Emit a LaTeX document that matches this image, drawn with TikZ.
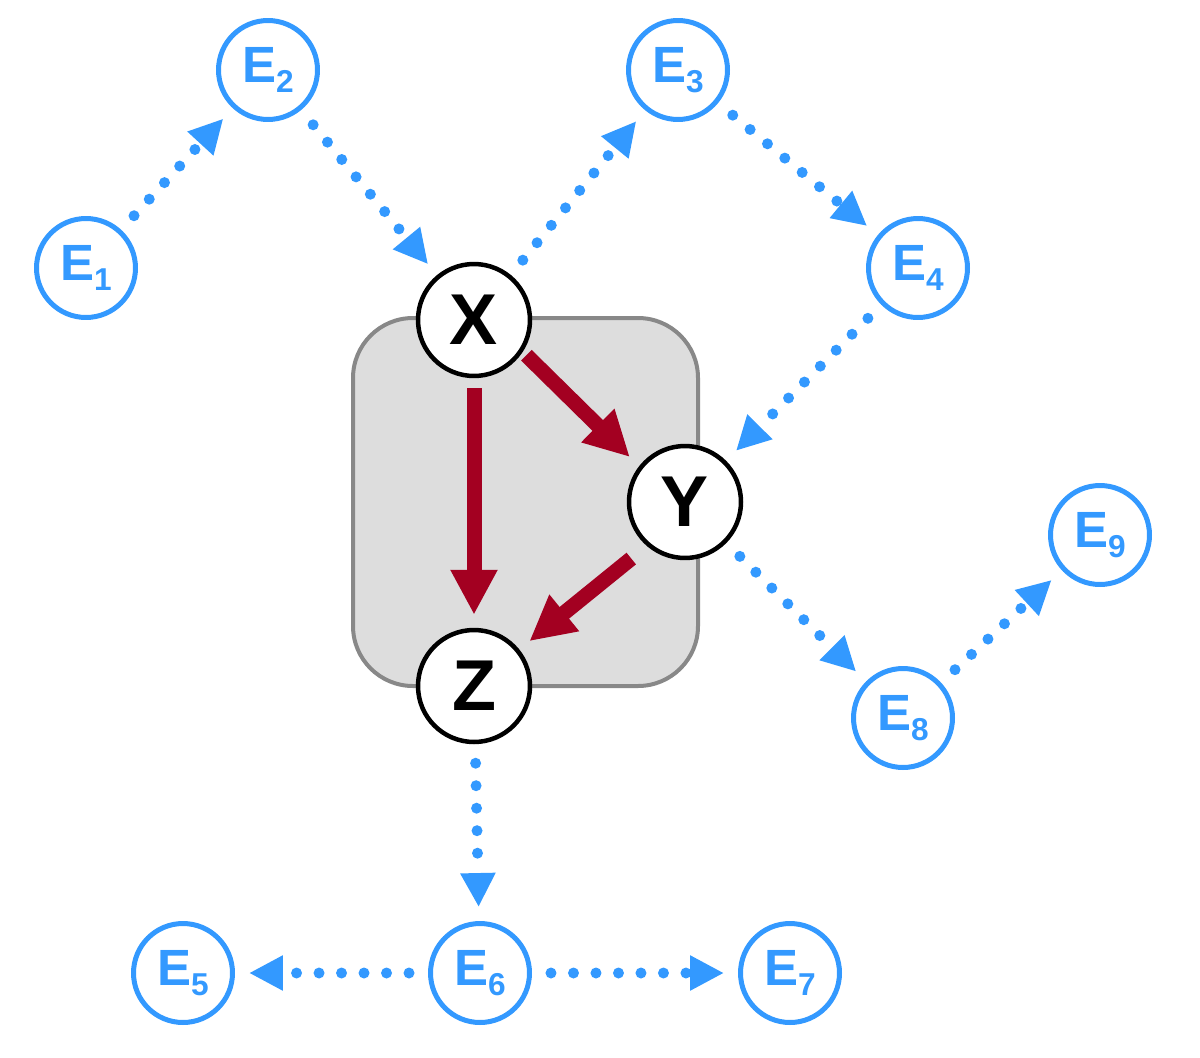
\documentclass[tikz,border=0pt]{standalone}
\usepackage{fontspec}
\setmainfont{Liberation Sans}
\usetikzlibrary{arrows.meta}
\definecolor{extblue}{RGB}{51,153,255}
\definecolor{causered}{RGB}{163,0,33}
\definecolor{boxgrey}{RGB}{221,221,221}
\definecolor{boxline}{RGB}{136,136,136}
\newcommand{\Eidx}[1]{\raisebox{-6pt}{\fontsize{18}{18}\selectfont #1}}

\begin{document}
\begin{tikzpicture}[x=0.02cm, y=-0.02cm,
  ext/.style={circle, draw=extblue, line width=0.1cm, minimum size=1.98cm, inner sep=0pt,
              text=extblue, font=\bfseries\fontsize{29}{29}\selectfont},
  var/.style={circle, draw=black, fill=white, line width=0.09cm, minimum size=2.24cm, inner sep=0pt,
              font=\bfseries\fontsize{41}{41}\selectfont},
  dots/.style={extblue, line width=0.22cm, line cap=round, dash pattern=on 0pt off 0.45cm,
               -{Triangle[length=0.68cm, width=0.66cm]}, shorten <=0.38cm, shorten >=0.28cm},
  cause/.style={causered, line width=0.3cm, -{Triangle[length=0.9cm, width=0.88cm]},
                shorten <=0.2cm, shorten >=0.26cm}]
  \useasboundingbox (0,0) rectangle (1200,1058);

  % grey box behind X, Y, Z
  \draw[boxline, fill=boxgrey, line width=0.08cm, rounded corners=1.2cm] (353,318) rectangle (698,686);

  \node[var] (X) at (474,320) {X};
  \node[var] (Y) at (685,502) {Y};
  \node[var] (Z) at (474,686) {Z};

  \foreach \n/\x/\y in {1/86/268, 2/268/70, 3/678/70, 4/918/268, 5/183/973,
                        6/480/973, 7/790/973, 8/903/718, 9/1100/535} {
    \node[ext] (E\n) at (\x,\y) {E\Eidx{\n}};
  }

  \draw[cause] (X.-90) -- (Z.90);
  \draw[cause, shorten <=0.1cm] (X.-33) -- (Y.142);
  \draw[cause, shorten <=0.4cm] (Y.229) -- (Z.39);

  \foreach \a/\b in {E1/E2, E2/X, X/E3, E3/E4, E4/Y, Y/E8, E8/E9, Z/E6, E6/E5, E6/E7}
    \draw[dots] (\a) -- (\b);
\end{tikzpicture}
\end{document}
